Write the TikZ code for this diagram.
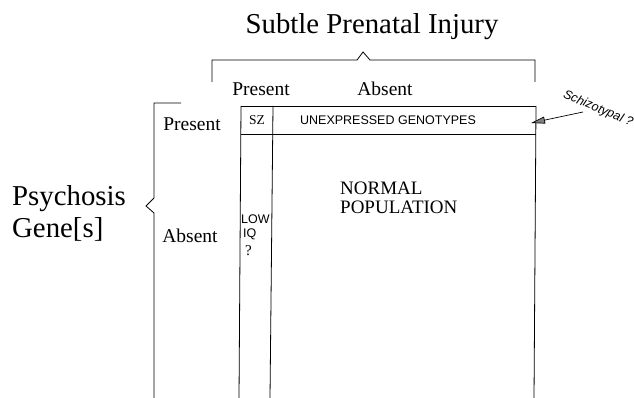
\documentclass[tikz,border=0pt]{standalone}
\usepackage{fontspec}
\setmainfont{Liberation Serif}
\newfontfamily\lsans{Liberation Sans}
\usetikzlibrary{arrows.meta}
\begin{document}
\begin{tikzpicture}[x=1pt,y=-1pt,
  rule/.style={line width=0.8pt},
  big/.style={font=\fontsize{28.8}{30}\selectfont, inner sep=0pt},
  lab/.style={font=\fontsize{19.5}{21}\selectfont, inner sep=0pt, anchor=base},
  celltext/.style={font=\lsans\fontsize{12.5}{13}\selectfont, inner sep=0pt, anchor=base},
  midtext/.style={font=\fontsize{19}{19}\selectfont, inner sep=0pt, anchor=base west}]
\useasboundingbox (0,0) rectangle (634,398);
% title and top brace
\node[big, anchor=base] (title) at (372,34) {Subtle Prenatal Injury};
\draw[rule] (212,82) -- (212,60) -- (357,60) -- (363,52) -- (370,60) -- (535,60) -- (535,82);
% left label and brace
\node[big, anchor=base west] (psy) at (12,205) {Psychosis};
\node[big, anchor=base west] (gene) at (12,237) {Gene[s]};
\draw[rule] (181,103) -- (154,103) -- (154,198) -- (146,206) -- (154,213) -- (154,398);
% headers
\node[lab] (cpres) at (261,96) {Present};
\node[lab] (cabs) at (385,96) {Absent};
\node[lab] (rpres) at (192,131) {Present};
\node[lab] (rabs) at (190,242) {Absent};
% table
\draw[rule] (241,106) -- (536,106);
\draw[rule] (241,134) -- (536,134);
\draw[rule] (241,106) -- (239,398);
\draw[rule] (273,106) -- (270,398);
\draw[rule] (536,106) -- (534,398);
% cell texts
\node[font=\fontsize{13.5}{14}\selectfont, inner sep=0pt, anchor=base] (sz) at (257,125) {SZ};
\node[celltext] (unexp) at (388,125) {UNEXPRESSED GENOTYPES};
\node[midtext] (normal) at (340,195) {NORMAL};
\node[midtext] (popul) at (340,214) {POPULATION};
\node[celltext, anchor=base west] (low) at (241,223) {LOW};
\node[celltext, anchor=base west] (iq) at (243,237) {IQ};
\node[font=\fontsize{15}{16}\selectfont, inner sep=0pt, anchor=base west] (qm) at (245,255) {?};
% schizotypal annotation
\node[font=\lsans\itshape\fontsize{12.5}{13}\selectfont, inner sep=0pt, rotate=-23] (schizo) at (598,109) {Schizotypal ?};
\coordinate (as) at (583,112);
\coordinate (at) at (531,123);
\draw[line width=0.7pt, -{Triangle[length=14pt, width=7pt, fill=gray]}] (as) -- (at);
\end{tikzpicture}
\end{document}
